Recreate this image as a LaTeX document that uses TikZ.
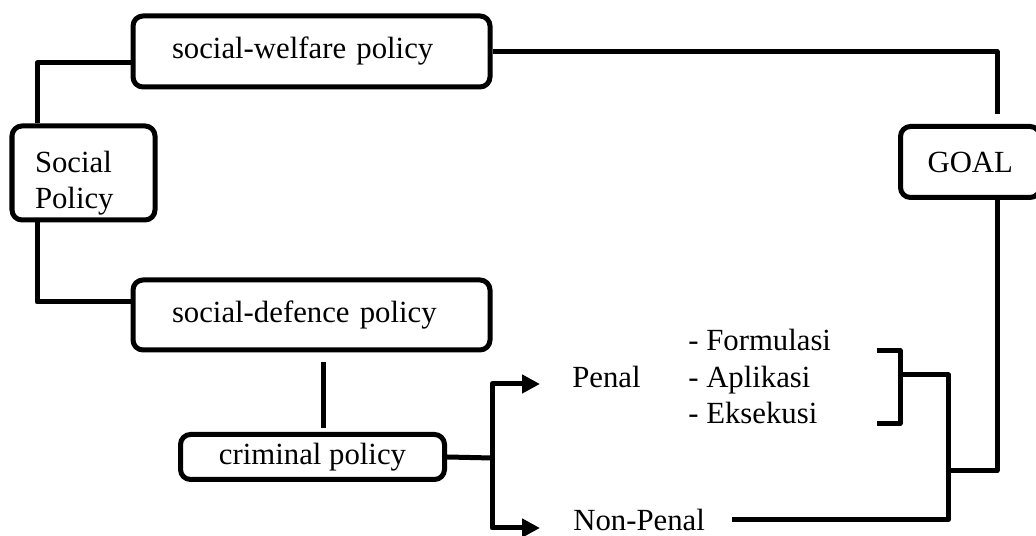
\documentclass[tikz,border=0pt]{standalone}
\usepackage{fontspec}
\setmainfont{Liberation Serif}
\usetikzlibrary{arrows.meta}
\tikzset{
  box/.style={draw, line width=0.1cm, rounded corners=0.2cm, inner ysep=0pt, font=\fontsize{17.5}{21}\selectfont},
  txt/.style={inner sep=0pt, anchor=base west, font=\fontsize{17.5}{21}\selectfont},
  link/.style={line width=0.1cm, line join=round},
  arr/.style={link, -{Triangle[length=0.36cm,width=0.36cm]}}
}
\begin{document}
\begin{tikzpicture}
\useasboundingbox (0,0) rectangle (20.72,10.72);
\clip (0,0) rectangle (20.72,10.72);
% boxes
\node[box, minimum width=7.14cm, minimum height=1.42cm, text width=5.58cm, align=left] (welf) at (6.23,9.69) {social-welfare policy};
\node[box, minimum width=7.14cm, minimum height=1.40cm, text width=5.58cm, align=left] (def) at (6.23,4.42) {social-defence policy};
\node[box, minimum width=2.86cm, minimum height=1.88cm] (socpol) at (1.67,7.26) {\parbox[c][1.57cm][b]{1.94cm}{Social\\Policy}};
\node[box, minimum width=5.28cm, minimum height=0.90cm] (crim) at (6.25,1.58) {criminal policy};
\node[box, minimum width=2.79cm, minimum height=1.42cm] (goal) at (19.405,7.48) {GOAL}; %right side cut off
% penal / non-penal texts
\node[txt] (penal) at (11.44,2.96) {Penal};
\node[txt] (form) at (13.76,3.70) {- Formulasi};
\node[txt] (apl) at (13.76,2.96) {- Aplikasi};
\node[txt] (eks) at (13.76,2.24) {- Eksekusi};
\node[txt] (nonpen) at (11.46,0.10) {Non-Penal};
\coordinate (split) at (9.84,1.56);
\coordinate (brk) at (18.97,3.22);
\coordinate (join) at (18.97,1.31);
% connectors
\draw[link] ([yshift=-0.23cm]welf.west) -| ([xshift=-0.93cm]socpol.north);
\draw[link] ([xshift=-0.93cm]socpol.south) |- ([yshift=0.26cm]def.west);
\draw[link, shorten >=0.2cm] (welf.east) -| ([xshift=0.535cm]goal.north);
\draw[link, shorten <=0.19cm, shorten >=0.08cm] ([xshift=0.23cm]def.south) -- ([xshift=0.23cm]def.south |- crim.north);
\draw[link] (crim.east) -- (split);
\draw[arr, shorten >=0.64cm] (split) |- ([yshift=0.08cm]penal.base west);
\draw[arr, shorten >=0.66cm] (split) |- ([yshift=0.06cm]nonpen.base west);
\draw[link] (17.53,3.71) -| (18.00,2.25) -- (17.53,2.25); %bracket
\draw[link, shorten <=0.54cm] ([yshift=0.23cm]nonpen.base east) -| (brk) -- (18.00,3.22);
\draw[link] ([xshift=0.535cm]goal.south) |- (join);
\end{tikzpicture}
\end{document}
